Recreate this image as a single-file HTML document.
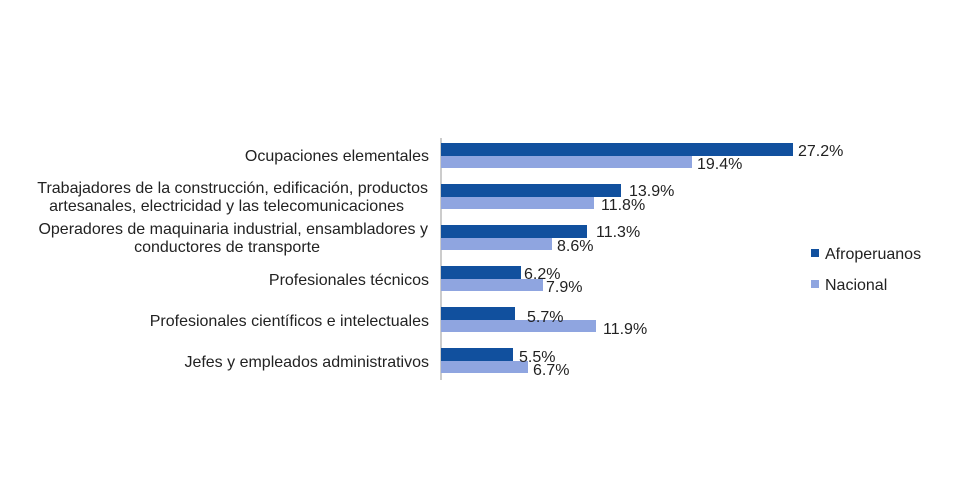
<!DOCTYPE html>
<html><head><meta charset="utf-8"><style>
body{margin:0;background:#fff;}
svg text{font-family:"Liberation Sans",sans-serif;font-size:16px;fill:#222;}
</style></head><body>
<svg width="960" height="484" xmlns="http://www.w3.org/2000/svg">
<rect width="960" height="484" fill="#fff"/>
<line x1="441" y1="138" x2="441" y2="380" stroke="#999" stroke-width="1"/>
<g fill="#11509e">
<rect x="441" y="143" width="352" height="13"/>
<rect x="441" y="184" width="180" height="13"/>
<rect x="441" y="225" width="146" height="13"/>
<rect x="441" y="266" width="80" height="13"/>
<rect x="441" y="307" width="74" height="13"/>
<rect x="441" y="348" width="72" height="13"/>
</g>
<g fill="#8fa5e0">
<rect x="441" y="156" width="251" height="12"/>
<rect x="441" y="197" width="153" height="12"/>
<rect x="441" y="238" width="111" height="12"/>
<rect x="441" y="279" width="102" height="12"/>
<rect x="441" y="320" width="155" height="12"/>
<rect x="441" y="361" width="87" height="12"/>
</g>
<g>
<text x="798" y="156">27.2%</text><text x="697" y="169">19.4%</text>
<text x="629" y="196">13.9%</text><text x="601" y="210">11.8%</text>
<text x="596" y="237">11.3%</text><text x="557" y="251">8.6%</text>
<text x="524" y="279">6.2%</text><text x="546" y="292">7.9%</text>
<text x="527" y="322">5.7%</text><text x="603" y="334">11.9%</text>
<text x="519" y="362">5.5%</text><text x="533" y="375">6.7%</text>
</g>
<g text-anchor="end">
<text x="429" y="161">Ocupaciones elementales</text>
<text x="428" y="193">Trabajadores de la construcción, edificación, productos</text>
<text x="404" y="211">artesanales, electricidad y las telecomunicaciones</text>
<text x="428" y="234">Operadores de maquinaria industrial, ensambladores y</text>
<text x="320" y="252">conductores de transporte</text>
<text x="429" y="285">Profesionales técnicos</text>
<text x="429" y="326">Profesionales científicos e intelectuales</text>
<text x="429" y="367">Jefes y empleados administrativos</text>
</g>
<rect x="811" y="249" width="8" height="8" fill="#11509e"/>
<text x="825" y="259">Afroperuanos</text>
<rect x="811" y="280" width="8" height="8" fill="#8fa5e0"/>
<text x="825" y="290">Nacional</text>
</svg>
</body></html>
